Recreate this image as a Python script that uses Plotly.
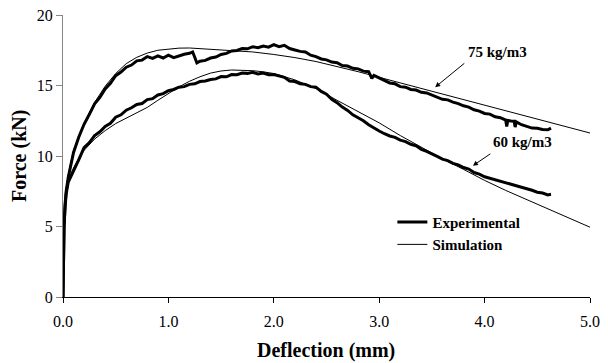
import plotly.graph_objects as go

# ---------------- data ----------------
exp75_x = [0.000, 0.005, 0.010, 0.020, 0.030, 0.050, 0.075, 0.10, 0.15, 0.20, 0.25, 0.30, 0.35, 0.40, 0.45,
           0.50, 0.55, 0.60, 0.65, 0.70, 0.75, 0.80, 0.85, 0.90, 0.95, 1.00, 1.05, 1.10, 1.15, 1.20, 1.23,
           1.25, 1.27, 1.30, 1.35, 1.40, 1.45, 1.50, 1.55, 1.60, 1.65, 1.70, 1.75, 1.80, 1.85, 1.90, 1.95,
           2.00, 2.05, 2.10, 2.15, 2.20, 2.25, 2.30, 2.35, 2.40, 2.45, 2.50, 2.55, 2.60, 2.65, 2.70, 2.75,
           2.80, 2.85, 2.90, 2.93, 2.95, 3.00, 3.05, 3.10, 3.15, 3.20, 3.25, 3.30, 3.35, 3.40, 3.45, 3.50,
           3.55, 3.60, 3.65, 3.70, 3.75, 3.80, 3.85, 3.90, 3.95, 4.00, 4.05, 4.10, 4.15, 4.20, 4.21, 4.22,
           4.25, 4.28, 4.29, 4.30, 4.35, 4.40, 4.45, 4.50, 4.55, 4.60, 4.63]
exp75_y = [0.0, 3.0, 5.0, 6.6, 7.5, 8.5, 9.5, 10.25, 11.35, 12.25, 12.95, 13.7, 14.15, 14.75, 15.15,
           15.7, 15.95, 16.3, 16.45, 16.75, 16.8, 17.05, 16.92, 17.1, 16.95, 17.15, 16.98, 17.12, 17.22, 17.28, 17.38,
           17.0, 16.6, 16.72, 16.78, 16.95, 17.02, 17.2, 17.28, 17.45, 17.48, 17.62, 17.6, 17.75, 17.68, 17.8, 17.72,
           17.9, 17.75, 17.85, 17.62, 17.52, 17.42, 17.38, 17.15, 17.05, 16.88, 16.82, 16.66, 16.62, 16.42, 16.38, 16.22,
           16.18, 16.02, 15.98, 15.5, 15.72, 15.52, 15.38, 15.18, 15.12, 14.92, 14.88, 14.72, 14.68, 14.52, 14.47, 14.32,
           14.22, 14.02, 13.98, 13.82, 13.72, 13.56, 13.47, 13.28, 13.18, 13.02, 12.97, 12.78, 12.72, 12.55, 12.1, 12.52,
           12.48, 12.47, 12.05, 12.42, 12.22, 12.12, 11.98, 11.97, 11.88, 11.86, 11.98]

exp60_x = [0.000, 0.005, 0.010, 0.020, 0.030, 0.050, 0.070, 0.10, 0.15, 0.20, 0.25, 0.30, 0.35, 0.40, 0.45,
           0.50, 0.55, 0.60, 0.65, 0.70, 0.75, 0.80, 0.85, 0.90, 0.95, 1.00, 1.05, 1.10, 1.15, 1.20, 1.25,
           1.30, 1.35, 1.40, 1.45, 1.50, 1.55, 1.60, 1.65, 1.70, 1.75, 1.80, 1.85, 1.90, 1.95, 2.00, 2.05,
           2.10, 2.15, 2.20, 2.25, 2.30, 2.35, 2.40, 2.45, 2.50, 2.55, 2.60, 2.65, 2.70, 2.75, 2.80, 2.85,
           2.90, 2.95, 3.00, 3.05, 3.10, 3.15, 3.20, 3.25, 3.30, 3.35, 3.40, 3.45, 3.50, 3.55, 3.60, 3.65,
           3.70, 3.75, 3.80, 3.85, 3.90, 3.95, 4.00, 4.05, 4.10, 4.15, 4.20, 4.25, 4.30, 4.35, 4.40, 4.45,
           4.50, 4.55, 4.60, 4.63]
exp60_y = [0.0, 3.0, 5.0, 6.4, 7.3, 8.15, 8.45, 8.95, 9.75, 10.6, 10.95, 11.45, 11.72, 12.1, 12.32,
           12.75, 12.92, 13.25, 13.42, 13.65, 13.72, 14.0, 14.07, 14.33, 14.42, 14.63, 14.72, 14.88, 14.92, 15.08, 15.12,
           15.28, 15.32, 15.43, 15.47, 15.63, 15.62, 15.78, 15.77, 15.88, 15.86, 15.93, 15.82, 15.88, 15.77, 15.78, 15.67,
           15.58, 15.32, 15.28, 15.12, 15.08, 14.92, 14.88, 14.58, 14.38, 14.02, 13.78, 13.47, 13.23, 12.92, 12.73, 12.5,
           12.22, 11.98, 11.77, 11.58, 11.42, 11.32, 11.13, 11.02, 10.83, 10.72, 10.47, 10.33, 10.12, 9.97, 9.78, 9.67,
           9.48, 9.37, 9.18, 9.07, 8.83, 8.72, 8.53, 8.43, 8.28, 8.22, 8.08, 8.02, 7.88, 7.82, 7.68, 7.57,
           7.43, 7.37, 7.24, 7.28]

sim75_x = [0.0, 0.01, 0.03, 0.05, 0.1, 0.2, 0.3, 0.4, 0.5, 0.6, 0.7, 0.8, 0.9, 1.0, 1.1, 1.2, 1.3, 1.4, 1.5,
           1.6, 1.8, 2.0, 2.2, 2.4, 2.6, 2.8, 3.0, 3.2, 3.4, 3.6, 3.8, 4.0, 4.2, 4.4, 4.6, 4.8, 5.0]
sim75_y = [0.0, 5.2, 7.7, 8.7, 10.4, 12.35, 13.8, 14.95, 15.85, 16.55, 17.0, 17.3, 17.5, 17.6, 17.65, 17.66, 17.63, 17.58, 17.52,
           17.47, 17.38, 17.2, 16.98, 16.7, 16.35, 15.98, 15.58, 15.18, 14.82, 14.42, 14.0, 13.6, 13.2, 12.82, 12.42, 12.03, 11.63]

sim60_x = [0.0, 0.01, 0.03, 0.05, 0.07, 0.1, 0.15, 0.2, 0.3, 0.4, 0.5, 0.6, 0.7, 0.8, 0.9, 1.0, 1.1, 1.2, 1.3,
           1.4, 1.5, 1.6, 1.7, 1.8, 1.9, 2.0, 2.2, 2.4, 2.6, 2.8, 3.0, 3.2, 3.4, 3.6, 3.8, 4.0, 4.2, 4.4, 4.6, 4.8, 5.0]
sim60_y = [0.0, 5.0, 7.5, 8.3, 8.65, 9.15, 9.85, 10.4, 11.2, 11.8, 12.3, 12.7, 13.05, 13.45, 13.95, 14.45, 14.9, 15.3, 15.62,
           15.88, 16.03, 16.1, 16.1, 16.05, 15.97, 15.85, 15.4, 14.78, 13.95, 13.15, 12.35, 11.45, 10.6, 9.8, 9.05, 8.27, 7.56, 6.9, 6.25, 5.6, 4.95]

x_ticks = [0, 1, 2, 3, 4, 5]
x_tick_labels = ["0.0", "1.0", "2.0", "3.0", "4.0", "5.0"]
y_ticks = [0, 5, 10, 15, 20]

SERIF = "Liberation Serif, Times New Roman, serif"

fig = go.Figure()
fig.add_trace(go.Scatter(x=exp75_x, y=exp75_y, mode="lines", name="Experimental",
                         line=dict(color="black", width=3), legendgroup="exp"))
fig.add_trace(go.Scatter(x=exp60_x, y=exp60_y, mode="lines", name="Experimental",
                         line=dict(color="black", width=3), legendgroup="exp", showlegend=False))
fig.add_trace(go.Scatter(x=sim75_x, y=sim75_y, mode="lines", name="Simulation",
                         line=dict(color="black", width=1), legendgroup="sim"))
fig.add_trace(go.Scatter(x=sim60_x, y=sim60_y, mode="lines", name="Simulation",
                         line=dict(color="black", width=1), legendgroup="sim", showlegend=False))

# the page body adds an 8px margin, so the figure is 600x355 and offset accordingly
fig.update_layout(
    width=600, height=355,
    margin=dict(l=55, r=18, t=7, b=66, autoexpand=False),
    paper_bgcolor="white", plot_bgcolor="white",
    font=dict(family=SERIF, color="black", size=16),
    showlegend=True,
    legend=dict(x=0.625, y=0.324, xanchor="left", yanchor="top",
                font=dict(family=SERIF, size=15, color="black", weight="bold"),
                bgcolor="rgba(0,0,0,0)", borderwidth=0, tracegroupgap=0),
    xaxis=dict(range=[0, 5], tickvals=x_ticks, ticktext=x_tick_labels, automargin=False,
               showgrid=False, zeroline=False, showline=True, linecolor="black", linewidth=1,
               ticks="outside", ticklen=5, tickcolor="black", tickwidth=1, ticklabelstandoff=5,
               ticklabeloverflow="allow", tickfont=dict(family=SERIF, size=16)),
    yaxis=dict(range=[0, 20], tickvals=y_ticks, automargin=False,
               showgrid=False, zeroline=False, showline=True, linecolor="#868686", linewidth=1,
               ticks="outside", ticklen=6, tickcolor="#868686", tickwidth=1,
               ticklabeloverflow="allow", tickfont=dict(family=SERIF, size=16)),
)

# axis titles
fig.add_annotation(x=0.499, y=-0.188, xref="paper", yref="paper", xanchor="center", yanchor="middle",
                   text="<b>Deflection (mm)</b>",
                   showarrow=False, font=dict(family=SERIF, size=20, color="black"))
fig.add_annotation(x=-0.0835, y=0.5, xref="paper", yref="paper", xanchor="center", yanchor="middle",
                   text="<b>Force (kN)</b>", textangle=-90,
                   showarrow=False, font=dict(family=SERIF, size=20, color="black"))

# arrows
fig.add_annotation(x=3.531, y=14.88, ax=3.822, ay=16.66, xref="x", yref="y", axref="x", ayref="y",
                   text="", showarrow=True, arrowhead=2, arrowsize=1, arrowwidth=1, arrowcolor="black")
fig.add_annotation(x=3.889, y=9.31, ax=4.069, ay=10.23, xref="x", yref="y", axref="x", ayref="y",
                   text="", showarrow=True, arrowhead=2, arrowsize=1, arrowwidth=1, arrowcolor="black")
# labels
fig.add_annotation(x=4.12, y=17.39, xref="x", yref="y", text="<b>75 kg/m3</b>", showarrow=False,
                   font=dict(family=SERIF, size=15, color="black"))
fig.add_annotation(x=4.357, y=11.0, xref="x", yref="y", text="<b>60 kg/m3</b>", showarrow=False,
                   font=dict(family=SERIF, size=15, color="black"))

fig.write_html("out.html")
